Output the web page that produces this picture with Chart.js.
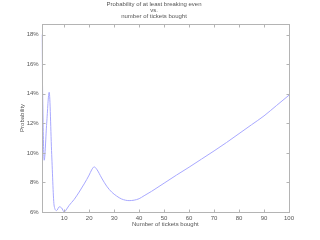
<!DOCTYPE html>
<html>
<head>
<meta charset="utf-8">
<script src="https://cdn.jsdelivr.net/npm/chart.js@4"></script>
<style>
    html, body { margin: 0; padding: 0; background: #ffffff; }
    #wrap { width: 320px; height: 240px; }
</style>
</head>
<body>
<div id="wrap"><canvas id="myChart"></canvas></div>
<script>
// values
var ticketsBought = [1, 2, 3, 4, 5, 6, 7, 8, 9, 10, 11, 12, 14, 16, 18, 20, 21, 22, 23, 25,
    27, 29, 31, 33, 36, 38, 40, 42, 45, 50, 55, 60, 65, 70, 75, 80, 85, 90, 95, 100];
var probability = [18.0, 9.5, 12.0, 14.1, 9.9, 6.4, 6.1, 6.35, 6.27, 6.0, 6.2, 6.45, 6.85, 7.35, 7.9, 8.5, 8.85, 9.05, 8.9, 8.3,
    7.75, 7.35, 7.08, 6.88, 6.77, 6.8, 6.9, 7.1, 7.4, 7.95, 8.5, 9.03, 9.58, 10.13, 10.7, 11.3, 11.9, 12.5, 13.2, 13.9];
var xTicks = [10, 20, 30, 40, 50, 60, 70, 80, 90, 100];
var yTicks = [6, 8, 10, 12, 14, 16, 18];

var textColor = "#555555";
var axisColor = "#b4b4b4";
var fontFamily = "'Liberation Sans', Arial, sans-serif";

// matlab style box with ticks pointing inward
var boxPlugin = {
    id: "box",
    afterDraw: function (chart) {
        var ctx = chart.ctx;
        var a = chart.chartArea;
        var xs = chart.scales.x;
        var ys = chart.scales.y;
        var l = Math.round(a.left) + 0.5, r = Math.round(a.right) + 0.5;
        var t = Math.round(a.top) + 0.5, b = Math.round(a.bottom) + 0.5;
        ctx.save();
        ctx.strokeStyle = axisColor;
        ctx.lineWidth = 1;
        ctx.strokeRect(l, t, r - l, b - t);
        ctx.beginPath();
        xs.ticks.forEach(function (tk) {
            var px = Math.round(xs.getPixelForValue(tk.value)) + 0.5;
            ctx.moveTo(px, b); ctx.lineTo(px, b - 3);
            ctx.moveTo(px, t); ctx.lineTo(px, t + 3);
        });
        ys.ticks.forEach(function (tk) {
            var py = Math.round(ys.getPixelForValue(tk.value)) + 0.5;
            ctx.moveTo(l, py); ctx.lineTo(l + 3, py);
            ctx.moveTo(r, py); ctx.lineTo(r - 3, py);
        });
        ctx.stroke();
        ctx.restore();
    },
};

var ctx = document.getElementById("myChart").getContext("2d");
var myChart = new Chart(ctx, {
    type: "line",
    data: {
        datasets: [
            {
                label: "Probability",
                data: ticketsBought.map(function (x, i) {
                    return { x: x, y: probability[i] };
                }),
                borderColor: "#a8a8ff",
                borderWidth: 1,
                pointRadius: 0,
                cubicInterpolationMode: "monotone",
                fill: false,
            },
        ],
    },
    plugins: [boxPlugin],
    options: {
        responsive: true,
        maintainAspectRatio: false,
        animation: false,
        layout: {
            padding: { left: 19, right: 31, top: 0, bottom: 10 },
        },
        plugins: {
            legend: { display: false },
            tooltip: { enabled: false },
            title: {
                display: true,
                text: ["Probability of at least breaking even", "vs.", "number of tickets bought"],
                color: textColor,
                font: { family: fontFamily, size: 6, weight: "normal", lineHeight: 1.05 },
                padding: { top: 1, bottom: 4 },
            },
        },
        scales: {
            x: {
                type: "linear",
                min: 1,
                max: 100,
                afterBuildTicks: function (scale) {
                    scale.ticks = xTicks.map(function (v) { return { value: v }; });
                },
                afterFit: function (scale) {
                    scale.height = 18;
                },
                grid: { display: false, drawTicks: false },
                border: { display: false },
                ticks: {
                    color: textColor,
                    font: { family: fontFamily, size: 6 },
                    padding: 3,
                    maxRotation: 0,
                    autoSkip: false,
                },
                title: {
                    display: true,
                    text: "Number of tickets bought",
                    color: textColor,
                    font: { family: fontFamily, size: 6 },
                    padding: { top: 0, bottom: 2 },
                },
            },
            y: {
                min: 6,
                max: 18.72,
                afterBuildTicks: function (scale) {
                    scale.ticks = yTicks.map(function (v) { return { value: v }; });
                },
                afterFit: function (scale) {
                    scale.width = 22.7;
                },
                grid: { display: false, drawTicks: false },
                border: { display: false },
                ticks: {
                    color: textColor,
                    font: { family: fontFamily, size: 6 },
                    padding: 3,
                    callback: function (v) { return v + "%"; },
                },
                title: {
                    display: true,
                    text: "Probability",
                    color: textColor,
                    font: { family: fontFamily, size: 6 },
                    padding: 0,
                },
            },
        },
    },
});
</script>
</body>
</html>
